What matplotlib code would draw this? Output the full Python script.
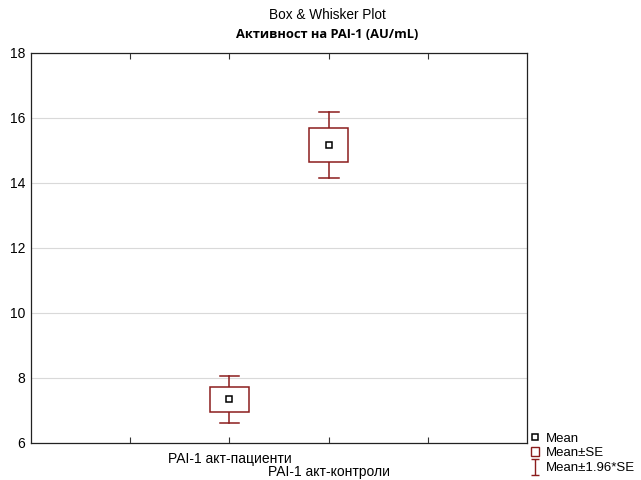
import matplotlib
matplotlib.use("Agg")
import matplotlib.pyplot as plt
from matplotlib.lines import Line2D
from matplotlib.patches import Patch, Rectangle
from matplotlib.path import Path

# values
groups = ["PAI-1 акт-пациенти", "PAI-1 акт-контроли"]
positions = [2, 3]
means = [7.34, 15.16]
se = [0.375, 0.52]

RED = "#8B1C1C"

plt.rcParams["font.family"] = ["Liberation Sans", "DejaVu Sans"]

fig = plt.figure(figsize=(6.41, 4.80), dpi=100)
ax = fig.add_axes([0.0484, 0.0771, 0.7738, 0.8125])

box_w = 0.4
cap_w = 0.2
for x, m, s in zip(positions, means, se):
    lo, hi = m - 1.96 * s, m + 1.96 * s
    ax.add_patch(Rectangle((x - box_w / 2, m - s), box_w, 2 * s,
                           facecolor="white", edgecolor=RED, lw=1.1, zorder=3))
    ax.plot([x, x], [m + s, hi], color=RED, lw=1.1, zorder=2)
    ax.plot([x, x], [lo, m - s], color=RED, lw=1.1, zorder=2)
    ax.plot([x - cap_w / 2, x + cap_w / 2], [hi, hi], color=RED, lw=1.1, zorder=2)
    ax.plot([x - cap_w / 2, x + cap_w / 2], [lo, lo], color=RED, lw=1.1, zorder=2)
    ax.plot([x], [m], marker="s", ms=5, mfc="white", mec="black", mew=1.1,
            ls="none", zorder=4)

ax.set_xlim(0, 5)
ax.set_ylim(6, 18)
ax.set_yticks([6, 8, 10, 12, 14, 16, 18])
ax.set_xticks([1, 2, 3, 4])
ax.set_xticklabels([])
ax.tick_params(axis="x", direction="in", top=True, bottom=True, length=4,
               width=0.8, color="#333333")
ax.tick_params(axis="y", length=0, labelsize=10, pad=4)
ax.grid(axis="y", color="#d9d9d9", lw=0.8)
ax.set_axisbelow(True)
for sp in ax.spines.values():
    sp.set_color("#222222")
    sp.set_linewidth(0.9)

trans = ax.get_xaxis_transform()
ax.text(positions[0], -0.041, groups[0], transform=trans, ha="center",
        va="center", fontsize=10)
ax.text(positions[1], -0.074, groups[1], transform=trans, ha="center",
        va="center", fontsize=10)

fig.text(327 / 641, 1 - 15 / 480, "Box & Whisker Plot", ha="center",
         va="center", fontsize=9.8)
fig.text(327 / 641, 1 - 34 / 480, "Активност на PAI-1 (AU/mL)", ha="center",
         va="center", fontsize=9.3, fontweight="bold", family="Open Sans")

i_marker = Path([(-0.5, 1), (0.5, 1), (0, 1), (0, -1), (-0.5, -1), (0.5, -1)],
                [Path.MOVETO, Path.LINETO, Path.MOVETO, Path.LINETO,
                 Path.MOVETO, Path.LINETO])
handles = [
    Line2D([], [], marker="s", ms=5, mfc="white", mec="black", mew=1.1, ls="none"),
    Patch(facecolor="white", edgecolor=RED, lw=1.0),
    Line2D([], [], marker=i_marker, ms=11, mec=RED, mew=1.0, ls="none"),
]
labels = ["Mean", "Mean±SE", "Mean±1.96*SE"]
fig.legend(handles, labels, loc="lower left",
           bbox_to_anchor=(528 / 641, 3 / 480), frameon=False, fontsize=9.5,
           handlelength=0.6, handleheight=0.7, handletextpad=0.55,
           labelspacing=0.2, borderpad=0.2, borderaxespad=0)

fig.savefig("out.png", dpi=100)
